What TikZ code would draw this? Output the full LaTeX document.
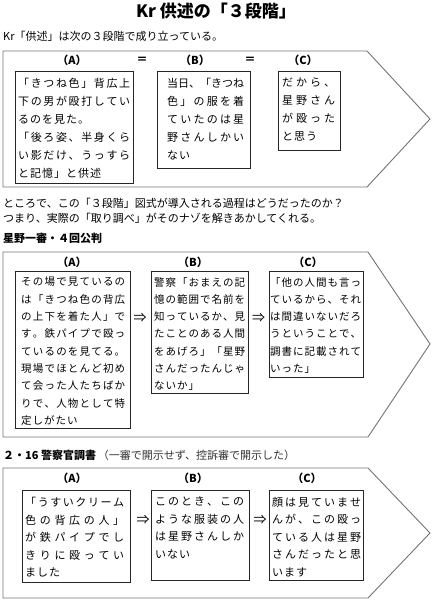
\documentclass[tikz,border=0pt]{standalone}
\usepackage{fontspec}
\setmainfont{Noto Sans CJK JP}
\makeatletter
\newdimen\jgap
\jgap=1pt
\def\jl@a#1{\ifx#1\relax\else#1\expandafter\jl@b\fi}
\def\jl@b#1{\ifx#1\relax\else\hfill#1\expandafter\jl@b\fi}
\def\js@a#1{\ifx#1\relax\else#1\expandafter\js@b\fi}
\def\js@b#1{\ifx#1\relax\else\kern\jgap#1\expandafter\js@b\fi}
\newcommand\jl[2]{\hbox to #1pt{\jl@a#2\relax}}
\newcommand\js[1]{\hbox{\js@a#1\relax}}
\makeatother
\tikzset{
  penta/.style={draw=black!55, line width=0.9pt},
  jbox/.style={draw=black!85, line width=0.8pt, inner sep=0pt, anchor=north west},
  jtxt/.style={inner sep=0pt, anchor=north west, align=left},
  lab/.style={inner sep=0pt, font=\bfseries\fontsize{11}{13}\selectfont},
  arr/.style={inner sep=0pt, font=\fontsize{13}{15}\selectfont},
  line/.style={inner sep=0pt, anchor=west, font=\fontsize{11}{13}\selectfont},
}
\begin{document}
\begin{tikzpicture}[x=1pt,y=-1pt]
\useasboundingbox (0,0) rectangle (434,600);
% title
\node[inner sep=0pt, font=\bfseries\fontsize{17}{20}\selectfont] (title) at (216,11) {Kr 供述の「３段階」};
\node[line] (intro) at (3,36.5) {Kr「供述」は次の３段階で成り立っている。};
% ---- panel 1
\draw[penta] (3,51) -- (367,51) -- (430,119) -- (367,187) -- (3,187) -- cycle;
\node[lab] (l1a) at (72,60) {（A）};
\node[lab] (e1) at (142,60) {＝};
\node[lab] (l1b) at (195,60) {（B）};
\node[lab] (e2) at (250,60) {＝};
\node[lab] (l1c) at (303,60) {（C）};
\node[jbox, minimum width=118pt, minimum height=112pt] (b1a) at (15,71) {};
\node[jbox, minimum width=93pt, minimum height=97pt] (b1b) at (157,71) {};
\node[jbox, minimum width=62pt, minimum height=79pt] (b1c) at (278,71) {};
\node[jtxt, font=\fontsize{11}{18}\selectfont] (t1a) at (18,78) {\jgap=1pt
\jl{112}{「きつね色」背広上}\\
\jl{112}{下の男が殴打してい}\\
\js{るのを見た。}\\
\jl{112}{「後ろ姿、半身くら}\\
\jl{112}{い影だけ、うっすら}\\
\js{と記憶」と供述}};
\node[jtxt, font=\fontsize{11}{18}\selectfont] (t1b) at (167,78) {\jgap=1.5pt
\jl{77}{当日、「きつね}\\
\jl{77}{色」の服を着}\\
\jl{77}{ていたのは星}\\
\jl{77}{野さんしかい}\\
\js{ない}};
\node[jtxt, font=\fontsize{11}{18}\selectfont] (t1c) at (282,78) {\jgap=1.5pt
\jl{53}{だから、}\\
\jl{53}{星野さん}\\
\jl{53}{が殴った}\\
\js{と思う}};
% text between
\node[line] (p1) at (3,203) {ところで、この「３段階」図式が導入される過程はどうだったのか？};
\node[line] (p2) at (3,218) {つまり、実際の「取り調べ」がそのナゾを解きあかしてくれる。};
\node[line, font=\bfseries\fontsize{11}{13}\selectfont] (h2) at (3,238) {星野一審・４回公判};
% ---- panel 2
\draw[penta] (3,252) -- (368,252) -- (430,344) -- (368,437) -- (3,437) -- cycle;
\node[lab] (l2a) at (72,262) {（A）};
\node[lab] (l2b) at (193,262) {（B）};
\node[lab] (l2c) at (308,262) {（C）};
\node[jbox, minimum width=115pt, minimum height=157pt] (b2a) at (15,271) {};
\node[jbox, minimum width=97pt, minimum height=122pt] (b2b) at (151,271) {};
\node[jbox, minimum width=94pt, minimum height=106pt] (b2c) at (269,271) {};
\node[arr] (a21) at (140,318) {⇒};
\node[arr] (a22) at (258.5,318) {⇒};
\node[jtxt, font=\fontsize{10.5}{17.3}\selectfont] (t2a) at (21,277) {\jgap=1pt
\jl{104}{その場で見ているの}\\
\jl{104}{は「きつね色の背広}\\
\jl{104}{の上下を着た人」で}\\
\jl{104}{す。鉄パイプで殴っ}\\
\jl{104}{ているのを見てる。}\\
\jl{104}{現場でほとんど初め}\\
\jl{104}{て会った人たちばか}\\
\jl{104}{りで、人物として特}\\
\js{定しがたい}};
\node[jtxt, font=\fontsize{10.5}{17.3}\selectfont] (t2b) at (154,277) {\jgap=1pt
\jl{91}{警察「おまえの記}\\
\jl{91}{憶の範囲で名前を}\\
\jl{91}{知っているか、見}\\
\jl{91}{たことのある人間}\\
\jl{91}{をあげろ」「星野}\\
\jl{91}{さんだったんじゃ}\\
\js{ないか」}};
\node[jtxt, font=\fontsize{10.5}{17.3}\selectfont] (t2c) at (270,277) {\jgap=1pt
\jl{91}{「他の人間も言っ}\\
\jl{91}{ているから、それ}\\
\jl{91}{は間違いないだろ}\\
\jl{91}{うということで、}\\
\jl{91}{調書に記載されて}\\
\js{いった」}};
% heading 3
\node[line] (h3) at (3,455) {\textbf{２・16 警察官調書}\,{\color{black!80}（一審で開示せず、控訴審で開示した）}};
% ---- panel 3
\draw[penta] (3,468) -- (368,468) -- (430,533) -- (368,598) -- (3,598) -- cycle;
\node[lab] (l3a) at (72,478) {（A）};
\node[lab] (l3b) at (193,478) {（B）};
\node[lab] (l3c) at (307,478) {（C）};
\node[jbox, minimum width=108pt, minimum height=92pt] (b3a) at (22,490) {};
\node[jbox, minimum width=98pt, minimum height=90pt] (b3b) at (151,490) {};
\node[jbox, minimum width=94pt, minimum height=90pt] (b3c) at (269,490) {};
\node[arr] (a31) at (143,520) {⇒};
\node[arr] (a32) at (260,520) {⇒};
\node[jtxt, font=\fontsize{11}{17.5}\selectfont] (t3a) at (25,497) {\jgap=1.5pt
\jl{99}{「うすいクリーム}\\
\jl{99}{色の背広の人」}\\
\jl{99}{が鉄パイプでし}\\
\jl{99}{きりに殴ってい}\\
\js{ました}};
\node[jtxt, font=\fontsize{11}{17.5}\selectfont] (t3b) at (155,497) {\jgap=1.5pt
\jl{89}{このとき、この}\\
\jl{89}{ような服装の人}\\
\jl{89}{は星野さんしか}\\
\js{いない}};
\node[jtxt, font=\fontsize{11}{17.5}\selectfont] (t3c) at (272,497) {\jgap=1.5pt
\jl{89}{顔は見ていませ}\\
\jl{89}{んが、この殴っ}\\
\jl{89}{ている人は星野}\\
\jl{89}{さんだったと思}\\
\js{います}};
\end{tikzpicture}
\end{document}
